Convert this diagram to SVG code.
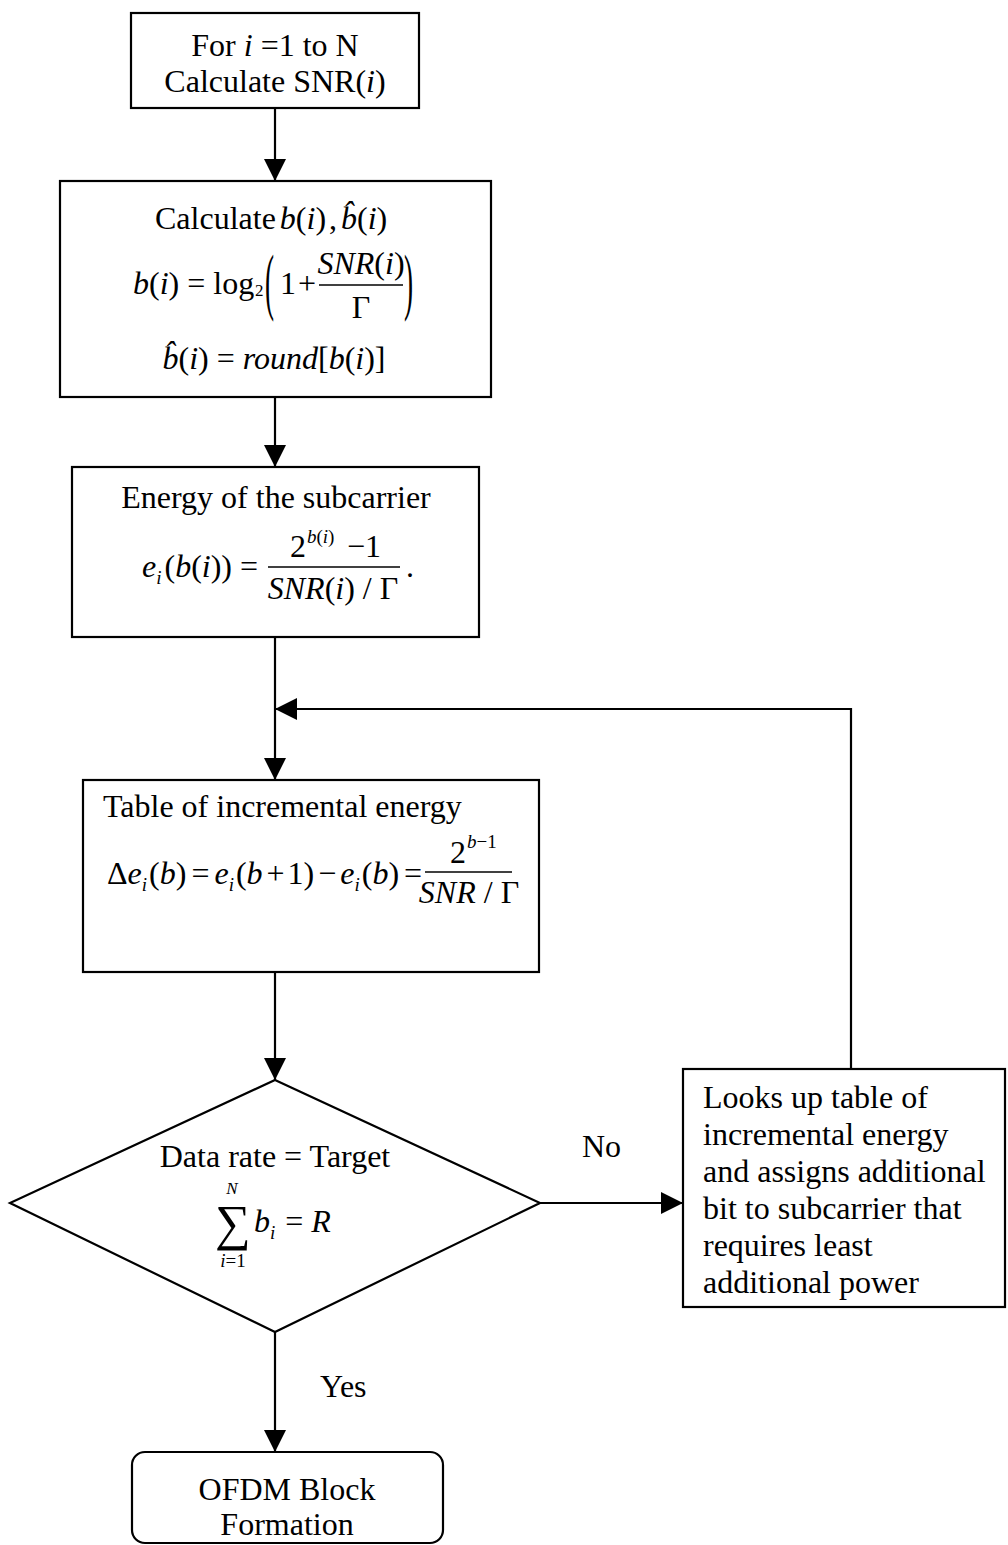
<svg xmlns="http://www.w3.org/2000/svg" width="1008" height="1545" viewBox="0 0 1008 1545">
<defs>
<style>
text{font-family:"Liberation Serif","Times New Roman",serif;font-size:32px;fill:#000}
.it{font-style:italic}
.sm{font-size:19px}
.xs{font-size:17px}
.mid{text-anchor:middle}
.box{fill:#fff;stroke:#000;stroke-width:2.2}
.ln{fill:none;stroke:#000;stroke-width:2.2}
.bar{stroke:#000;stroke-width:1.5}
</style>
<marker id="ah" markerUnits="userSpaceOnUse" markerWidth="22" markerHeight="22" refX="20" refY="10" orient="auto" viewBox="0 0 20 20">
<path d="M0,0 L20,10 L0,20 z" fill="#000"/>
</marker>
</defs>
<rect width="1008" height="1545" fill="#fff"/>

<g id="connectors">
<line class="ln" x1="275" y1="108" x2="275" y2="181" marker-end="url(#ah)"/>
<line class="ln" x1="275" y1="397" x2="275" y2="467" marker-end="url(#ah)"/>
<line class="ln" x1="275" y1="637" x2="275" y2="780" marker-end="url(#ah)"/>
<polyline class="ln" points="851,1069 851,709 275,709" marker-end="url(#ah)"/>
<line class="ln" x1="275" y1="972" x2="275" y2="1080" marker-end="url(#ah)"/>
<line class="ln" x1="540" y1="1203" x2="683" y2="1203" marker-end="url(#ah)"/>
<line class="ln" x1="275" y1="1332" x2="275" y2="1452" marker-end="url(#ah)"/>
<text x="582" y="1157">No</text>
<text x="320" y="1397">Yes</text>
</g>

<g id="n1">
<rect class="box" x="131" y="13" width="288" height="95"/>
<text class="mid" x="275" y="56">For <tspan class="it">i</tspan> =1 to N</text>
<text class="mid" x="275" y="92">Calculate SNR(<tspan class="it">i</tspan>)</text>
</g>

<g id="n2">
<rect class="box" x="60" y="181" width="431" height="216"/>
<text x="155" y="229">Calculate<tspan class="it" dx="4">b</tspan>(<tspan class="it">i</tspan>)<tspan dx="3">,</tspan><tspan class="it" dx="4">b̂</tspan>(<tspan class="it">i</tspan>)</text>
<text x="133" y="294"><tspan class="it">b</tspan>(<tspan class="it">i</tspan>) = log</text>
<text class="xs" x="255" y="296">2</text>
<text transform="translate(265,306) scale(0.85,2.3)">(</text>
<text x="280" y="294">1</text>
<text x="298" y="294">+</text>
<line class="bar" x1="319" y1="285" x2="403" y2="285"/>
<text class="mid" x="361" y="274"><tspan class="it">SNR</tspan>(<tspan class="it">i</tspan>)</text>
<text class="mid" x="361" y="318">Γ</text>
<text transform="translate(404,306) scale(0.85,2.3)">)</text>
<text class="mid" x="274" y="369"><tspan class="it">b̂</tspan>(<tspan class="it">i</tspan>) = <tspan class="it">round</tspan>[<tspan class="it">b</tspan>(<tspan class="it">i</tspan>)]</text>
</g>

<g id="n3">
<rect class="box" x="72" y="467" width="407" height="170"/>
<text class="mid" x="276" y="508">Energy of the subcarrier</text>
<text x="142" y="577"><tspan class="it">e</tspan><tspan class="it sm" dy="7">i</tspan><tspan dx="3" dy="-7">(</tspan><tspan class="it">b</tspan>(<tspan class="it">i</tspan>)) =</text>
<text x="290" y="557">2</text>
<text class="sm" x="307" y="543"><tspan class="it">b</tspan>(<tspan class="it">i</tspan>)</text>
<text x="347" y="557">−1</text>
<line class="bar" x1="268" y1="567" x2="400" y2="567"/>
<text class="mid" x="333" y="599"><tspan class="it">SNR</tspan>(<tspan class="it">i</tspan>) / Γ</text>
<text x="406" y="577">.</text>
</g>

<g id="n4">
<rect class="box" x="83" y="780" width="456" height="192"/>
<text x="103" y="817">Table of incremental energy</text>
<text x="107" y="884">Δ<tspan class="it">e</tspan><tspan class="it sm" dy="7">i</tspan><tspan dx="2" dy="-7">(</tspan><tspan class="it">b</tspan>)<tspan dx="5">=</tspan><tspan class="it" dx="5">e</tspan><tspan class="it sm" dy="7">i</tspan><tspan dx="2" dy="-7">(</tspan><tspan class="it">b</tspan><tspan dx="4">+</tspan><tspan dx="3">1)</tspan><tspan dx="4">−</tspan><tspan class="it" dx="4">e</tspan><tspan class="it sm" dy="7">i</tspan><tspan dx="2" dy="-7">(</tspan><tspan class="it">b</tspan>)<tspan dx="5">=</tspan></text>
<text x="450" y="863">2</text>
<text class="sm" x="467" y="848"><tspan class="it">b</tspan>−1</text>
<line class="bar" x1="425" y1="872" x2="512" y2="872"/>
<text class="mid" x="469" y="903"><tspan class="it">SNR</tspan> / Γ</text>
</g>

<g id="n5">
<polygon class="box" points="275,1080 540,1203 275,1332 10,1203"/>
<text class="mid" x="275" y="1167">Data rate = Target</text>
<text x="215" y="1240" style="font-size:50px">∑</text>
<text class="it xs mid" x="232" y="1194">N</text>
<text class="sm mid" x="233" y="1267"><tspan class="it">i</tspan>=1</text>
<text x="254" y="1232"><tspan class="it">b</tspan><tspan class="it sm" dy="7">i</tspan><tspan dx="10" dy="-7">=</tspan><tspan class="it" dx="8">R</tspan></text>
</g>

<g id="n6">
<rect class="box" x="683" y="1069" width="322" height="238"/>
<text x="703" y="1108">Looks up table of</text>
<text x="703" y="1145">incremental energy</text>
<text x="703" y="1182">and assigns additional</text>
<text x="703" y="1219">bit to subcarrier that</text>
<text x="703" y="1256">requires least</text>
<text x="703" y="1293">additional power</text>
</g>

<g id="n7">
<rect class="box" x="132" y="1452" width="311" height="91" rx="13" ry="13"/>
<text class="mid" x="287" y="1500">OFDM Block</text>
<text class="mid" x="287" y="1535">Formation</text>
</g>
</svg>
